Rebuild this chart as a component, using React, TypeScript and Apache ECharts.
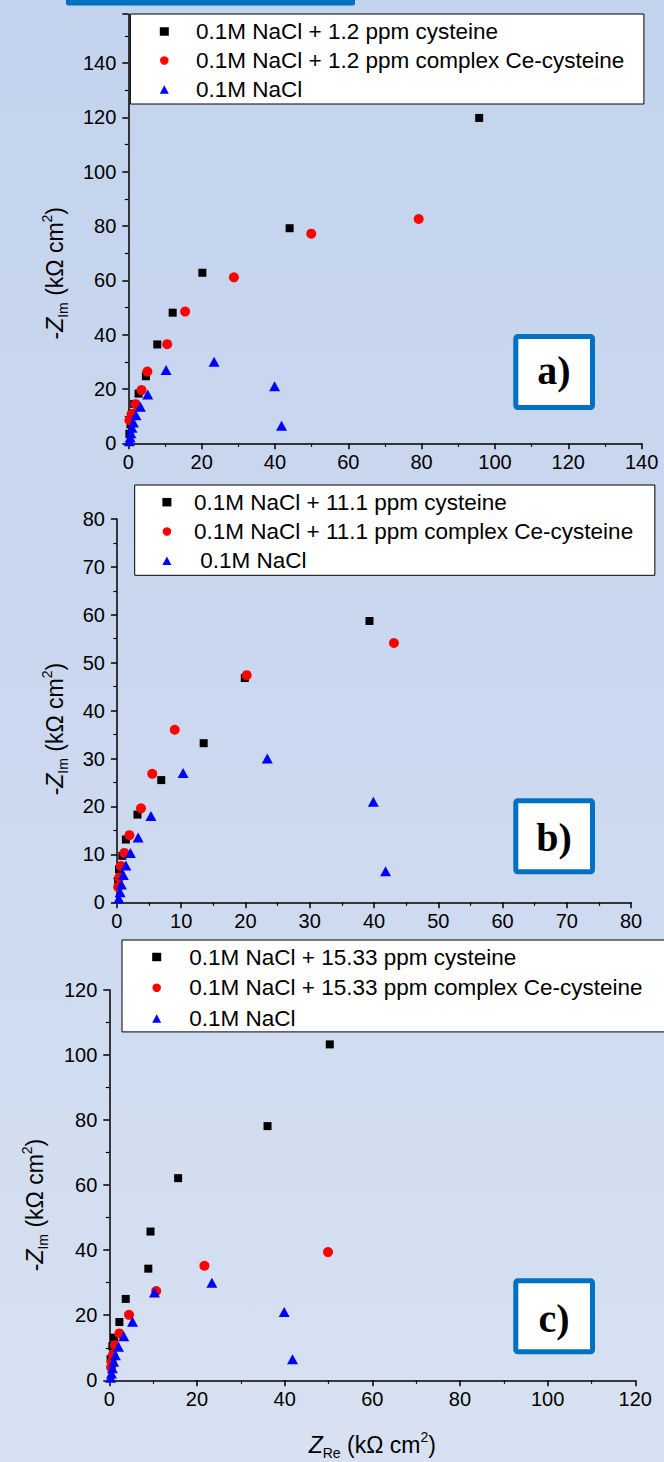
import React, { useEffect, useRef } from "react";
import * as echarts from "echarts";

// ---------- data (Z_Re, -Z_Im) in kOhm cm^2 ----------
const namesA = ["0.1M NaCl + 1.2 ppm cysteine", "0.1M NaCl + 1.2 ppm complex Ce-cysteine", "0.1M NaCl"];
const namesB = ["0.1M NaCl + 11.1 ppm cysteine", "0.1M NaCl + 11.1 ppm complex Ce-cysteine", " 0.1M NaCl"];
const namesC = ["0.1M NaCl + 15.33 ppm cysteine", "0.1M NaCl + 15.33 ppm complex Ce-cysteine", "0.1M NaCl"];

const blankNaCl = [
  [0.3, 0.8], [0.5, 2.1], [0.7, 3.7], [1.0, 5.7], [1.4, 7.7], [2.1, 10.3],
  [3.3, 13.5], [5.3, 18.0], [10.3, 27.0], [23.4, 30.0], [39.9, 21.0], [41.8, 6.5],
];

const cysA = [
  [0.3, 3.5], [0.6, 7.0], [1.0, 11.0], [1.6, 14.5], [2.8, 18.3], [4.8, 24.7],
  [7.9, 36.4], [12.1, 48.1], [20.2, 62.8], [44.0, 79.2], [95.7, 119.8],
];
const ceA = [
  [0.3, 8.5], [0.9, 10.8], [2.0, 14.4], [3.6, 19.6], [5.2, 26.4], [10.6, 36.5],
  [15.5, 48.5], [28.8, 61.1], [49.9, 77.2], [79.2, 82.6],
];

const cysB = [
  [0.2, 4.5], [0.33, 6.9], [0.85, 9.7], [1.4, 13.1], [3.2, 18.3], [6.9, 25.5],
  [13.5, 33.2], [19.9, 46.8], [39.3, 58.7],
];
const ceB = [
  [0.2, 3.2], [0.37, 5.2], [0.6, 7.6], [1.15, 10.3], [1.95, 14.0], [3.75, 19.6],
  [5.5, 26.8], [9.0, 36.0], [20.2, 47.4], [43.1, 54.1],
];

const cysC = [
  [0.3, 6.5], [0.7, 10.5], [1.1, 13.1], [2.3, 17.9], [3.75, 25.0], [8.9, 34.3],
  [9.4, 45.7], [15.7, 62.1], [36.1, 78.1], [50.3, 103.2],
];
const ceC = [
  [0.4, 4.0], [0.55, 5.7], [0.8, 7.8], [1.3, 10.8], [2.3, 14.4], [4.5, 20.1],
  [10.7, 27.4], [21.7, 35.2], [49.9, 39.4],
];

// axis ranges: [xMax, xInterval, yMax, yInterval]
const axesA = [140, 20, 158, 20];
const axesB = [80, 10, 80, 10];
const axesC = [120, 20, 120, 20];

const panelLabels = ["a)", "b)", "c)"];

const FONT = '"Liberation Sans", Arial, sans-serif';

const richName = {
  n: { fontSize: 23, fontFamily: FONT, color: "#000", lineHeight: 30 },
  z: { fontSize: 23, fontFamily: FONT, fontStyle: "italic", color: "#000", lineHeight: 30 },
  s: { fontSize: 14, fontFamily: FONT, color: "#000", lineHeight: 14, verticalAlign: "bottom" },
  p: { fontSize: 14, fontFamily: FONT, color: "#000", lineHeight: 14, verticalAlign: "top" },
};

const yName = "{n|-}{z|Z}{s|Im}{n| (kΩ cm}{p|2}{n|)}";
const xName = "{z|Z}{s|Re}{n| (kΩ cm}{p|2}{n|)}";

function baseAxis(gridIndex: number, max: number, interval: number, margin: number) {
  return {
    type: "value",
    gridIndex,
    min: 0,
    max,
    interval,
    axisLine: { show: true, onZero: false, lineStyle: { color: "#000", width: 1.5 } },
    axisTick: { show: true, inside: false, length: 6, lineStyle: { color: "#000", width: 1.5 } },
    minorTick: { show: true, splitNumber: 2, length: 3.5, lineStyle: { color: "#000", width: 1.2 } },
    splitLine: { show: false },
    minorSplitLine: { show: false },
    axisLabel: { fontSize: 20, color: "#000", fontFamily: FONT, margin },
  };
}

function buildOption() {
  const grids = [
    { left: 128.3, right: 22.4, top: 14.2, bottom: 1018.7 },
    { left: 116.9, right: 32.9, top: 518.9, bottom: 559.7 },
    { left: 109.3, right: 28.7, top: 989.7, bottom: 81.7 },
  ].map((g) => ({ ...g, containLabel: false, outerBoundsMode: "none" }));

  const axesList = [axesA, axesB, axesC];
  const xAxis: any[] = axesList.map((a, i) => baseAxis(i, a[0], a[1], 9));
  xAxis[2] = {
    ...xAxis[2],
    name: xName,
    nameLocation: "middle",
    nameGap: 50,
    nameTextStyle: { rich: richName },
  };

  const yGaps = [58, 47, 59];
  const yShift = [89, 37, 40];
  const yAxis: any[] = axesList.map((a, i) => ({
    ...baseAxis(i, a[2], a[3], 12),
    axisLabel: { fontSize: 20, color: "#000", fontFamily: FONT, margin: 12, showMaxLabel: i === 0 ? false : true },
    name: yName,
    nameLocation: "middle",
    nameRotate: 90,
    nameGap: yGaps[i],
    nameTextStyle: { rich: richName, padding: [0, yShift[i], 0, 0] },
  }));

  const sets = [
    [cysA, ceA, blankNaCl],
    [cysB, ceB, blankNaCl],
    [cysC, ceC, blankNaCl],
  ];
  const allNames = [namesA, namesB, namesC];
  const symbols = ["rect", "circle", "triangle"];
  const sizes: any[] = [8, 10, [11, 10]];
  const colors = ["#000000", "#ff0000", "#0000ff"];

  const series: any[] = [];
  sets.forEach((set, p) => {
    set.forEach((d, k) => {
      series.push({
        type: "scatter",
        name: allNames[p][k],
        xAxisIndex: p,
        yAxisIndex: p,
        data: d,
        symbol: symbols[k],
        symbolSize: sizes[k],
        itemStyle: { color: colors[k], opacity: 1 },
        emphasis: { disabled: true },
        z: 2 + k,
      });
    });
  });

  const legendBase = {
    orient: "vertical",
    selectedMode: false,
    backgroundColor: "#ffffff",
    borderColor: "#000",
    borderWidth: 1,
    borderRadius: 0,
    itemWidth: 9,
    itemHeight: 8.5,
    symbolKeepAspect: true,
  };
  const legendText = (padL: number) => ({
    fontSize: 22.5,
    fontFamily: FONT,
    color: "#000",
    lineHeight: 22,
    padding: [0, 0, 0, padL],
  });
  const legend = [
    { ...legendBase, data: namesA, left: 130.4, top: 14, padding: [6, 19.6, 3, 29.4], itemGap: 6, textStyle: legendText(22.2) },
    { ...legendBase, data: namesB, left: 134.7, top: 485, padding: [5.7, 21.7, 3, 27.7], itemGap: 6.3, textStyle: legendText(17.6) },
    { ...legendBase, data: namesC, left: 122, top: 940, padding: [5.5, 90, 2, 30.2], itemGap: 7.7, textStyle: legendText(23.1) },
  ];

  const boxes = [
    { y: 336.5, ty: 370.5 },
    { y: 800.8, ty: 837.5 },
    { y: 1280.8, ty: 1318 },
  ];
  const graphic: any[] = [
    {
      type: "rect",
      shape: { x: 66, y: 0, width: 289, height: 5.5, r: [0, 0, 2, 2] },
      style: { fill: "#0070c0" },
      silent: true,
    },
  ];
  boxes.forEach((b, i) => {
    graphic.push({
      type: "rect",
      shape: { x: 515.8, y: b.y, width: 76.7, height: 71, r: 2 },
      style: { fill: "#ffffff", stroke: "#0070c0", lineWidth: 5 },
      silent: true,
      z: 10,
    });
    graphic.push({
      type: "text",
      x: 554,
      y: b.ty,
      style: {
        text: panelLabels[i],
        fontSize: 40,
        fontWeight: "bold",
        fontFamily: '"Liberation Serif", "Times New Roman", serif',
        fill: "#000",
        textAlign: "center",
        textVerticalAlign: "middle",
        align: "center",
        verticalAlign: "middle",
      },
      silent: true,
      z: 11,
    });
  });

  return {
    animation: false,
    backgroundColor: "transparent",
    grid: grids,
    xAxis,
    yAxis,
    legend,
    series,
    graphic,
  };
}

export default function App() {
  const ref = useRef<HTMLDivElement>(null);
  useEffect(() => {
    if (!ref.current) return;
    const chart = echarts.init(ref.current, null, { renderer: "svg" });
    chart.setOption(buildOption() as any);
    return () => chart.dispose();
  }, []);
  return (
    <div
      ref={ref}
      style={{
        position: "absolute",
        left: 0,
        top: 0,
        width: 664,
        height: 1462,
        background: "linear-gradient(to bottom, #c4d3ed 0%, #cbd8ef 50%, #d7e1f1 100%)",
      }}
    />
  );
}
